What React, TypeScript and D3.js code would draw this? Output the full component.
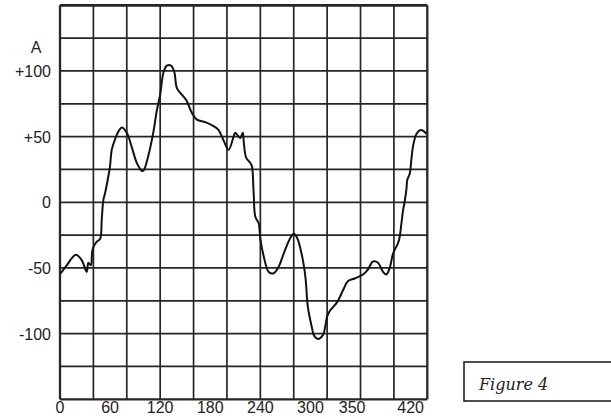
import React from "react";
import * as d3 from "d3";

const W = 611;
const H = 419;

// Waveform samples: time (x) and amplitude A (y)
const timeValues = [
  1, 8, 19, 26, 32, 34, 37, 39, 44, 48, 50, 52, 54, 58, 60, 62, 66, 70, 74, 80,
  86, 92, 98, 100, 106, 112, 116, 120, 124, 128, 133, 137, 140, 146, 152, 158, 164, 174, 184, 190,
  196, 202, 208, 210, 214, 216, 219, 220, 223, 228, 230, 232, 234, 238, 240, 244, 250, 256, 262, 268,
  276, 280, 284, 290, 294, 297, 302, 304, 309, 315, 320, 323, 332, 339, 345, 353, 363, 369, 375, 381,
  387, 391, 395, 399, 405, 407, 409, 411, 413, 415, 416, 419, 421, 423, 427, 432, 436, 439,
];
const amplitudeValues = [
  -54, -48, -40, -44, -53, -46, -48, -36, -30, -28, -13, 2, 7, 20, 28, 40, 48, 54, 57, 53,
  42, 30, 24, 24, 36, 54, 70, 82, 99, 104, 104, 99, 87, 82, 77, 68, 63, 61, 58, 55,
  47, 40, 50, 53, 50, 49, 53, 47, 34, 30, 27, 7, -11, -16, -28, -41, -53, -54, -49, -39,
  -27, -24, -27, -41, -57, -80, -96, -101, -104, -101, -87, -83, -76, -67, -60, -58, -55, -51, -45, -46,
  -53, -55, -50, -39, -31, -26, -16, -6, 1, 10, 17, 22, 33, 43, 52, 55, 54, 52,
];

const xGridTicks = d3.range(0, 441, 40);
const yGridTicks = d3.range(-150, 151, 25);
const xTickLabels = [0, 60, 120, 180, 240, 300, 350, 420];
const yTickValues = [100, 50, 0, -50, -100];
const yTickLabels = ["+100", "+50", "0", "-50", "-100"];
const yAxisTitle = "A";
const figureCaption = "Figure 4";

export default function App() {
  const x = d3.scaleLinear().domain([0, 440]).range([60, 427.3]);
  const y = d3.scaleLinear().domain([-150, 150]).range([399.3, 5.3]);

  const points: [number, number][] = timeValues.map((t, i) => [t, amplitudeValues[i]]);
  const line = d3
    .line<[number, number]>()
    .x((d) => x(d[0]))
    .y((d) => y(d[1]))
    .curve(d3.curveCatmullRom.alpha(0.5));

  const font = "'Liberation Sans', Arial, sans-serif";
  const gridColor = "#262626";

  return (
    <svg
      width={W}
      height={H}
      style={{ position: "absolute", left: 0, top: 0, background: "#fff" }}
    >
      <rect x={0} y={0} width={W} height={H} fill="#fff" />
      {/* grid */}
      {xGridTicks.map((t) => (
        <line
          key={"vx" + t}
          x1={x(t)}
          x2={x(t)}
          y1={y(150)}
          y2={y(-150)}
          stroke={gridColor}
          strokeWidth={t === 0 || t === 440 ? 2.3 : 1.7}
        />
      ))}
      {yGridTicks.map((v) => (
        <line
          key={"hy" + v}
          x1={x(0)}
          x2={x(440)}
          y1={y(v)}
          y2={y(v)}
          stroke={gridColor}
          strokeWidth={v === 150 ? 2.8 : v === -150 ? 2.3 : 1.7}
        />
      ))}
      {/* curve */}
      <path d={line(points) || ""} fill="none" stroke="#111" strokeWidth={2} strokeLinejoin="round" />
      {/* y labels */}
      <text x={36} y={53} fontFamily={font} fontSize={16} fill="#222" textAnchor="middle">
        {yAxisTitle}
      </text>
      {yTickValues.map((v, i) => (
        <text
          key={"yl" + v}
          x={51}
          y={y(v) + 6}
          fontFamily={font}
          fontSize={16}
          fill="#222"
          textAnchor="end"
        >
          {yTickLabels[i]}
        </text>
      ))}
      {/* x labels */}
      {xTickLabels.map((t) => (
        <text
          key={"xl" + t}
          x={x(t)}
          y={413}
          fontFamily={font}
          fontSize={16}
          fill="#222"
          textAnchor="middle"
        >
          {t}
        </text>
      ))}
      {/* caption box */}
      <rect x={464} y={362} width={170} height={39} fill="#fff" stroke="#222" strokeWidth={1.6} />
      <text
        x={479}
        y={390}
        fontFamily="'DejaVu Serif', serif"
        fontStyle="italic"
        fontSize={16}
        fill="#222"
      >
        {figureCaption}
      </text>
    </svg>
  );
}
